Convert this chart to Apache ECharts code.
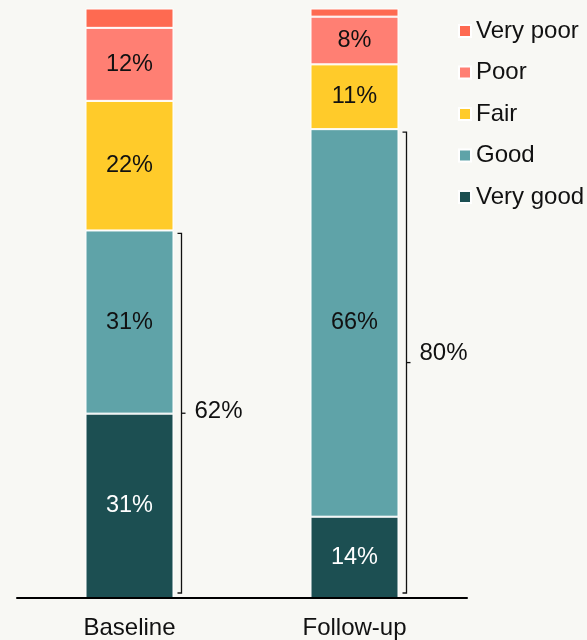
<!DOCTYPE html>
<html>
<head>
<meta charset="utf-8">
<script src="https://cdn.jsdelivr.net/npm/echarts@6/dist/echarts.min.js"></script>
<style>
html,body{margin:0;padding:0;background:#f8f8f4;}
#chart{width:587px;height:640px;}
</style>
</head>
<body>
<div id="chart"></div>
<script>
const categories = ['Baseline', 'Follow-up'];
const veryGood = [31.3, 13.8];
const good = [31.1, 65.8];
const fair = [22.0, 11.0];
const poor = [12.4, 8.1];
const veryPoor = [3.3, 1.6];
const legendOrder = ['Very poor', 'Poor', 'Fair', 'Good', 'Very good'];

const FONT = '"Liberation Sans", Arial, sans-serif';
const BAR_W = 88;

function segment(name, data, color, labelColor, showLabel) {
  return {
    name: name,
    type: 'bar',
    stack: 'total',
    barWidth: BAR_W,
    data: data,
    itemStyle: { color: color, borderColor: '#ffffff', borderWidth: 1 },
    label: {
      show: showLabel,
      position: 'inside',
      color: labelColor,
      fontFamily: FONT,
      fontSize: 23.5,
      formatter: p => Math.round(p.value) + '%'
    },
    emphasis: { disabled: true }
  };
}

const bracketData = categories.map((c, i) => [i, veryGood[i] + good[i]]);
const labelDy = [-2, -9];

const option = {
  backgroundColor: '#f8f8f4',
  animation: false,
  grid: { left: 17, right: 120, top: 9, bottom: 42 },
  legend: {
    data: legendOrder,
    orient: 'vertical',
    left: 458,
    top: 19,
    padding: 0,
    itemWidth: 12,
    itemHeight: 12,
    itemGap: 17.5,
    icon: 'rect',
    textStyle: { fontFamily: FONT, fontSize: 24, color: '#111', lineHeight: 24 },
    selectedMode: false
  },
  xAxis: {
    type: 'category',
    data: categories,
    z: 10,
    axisLine: { lineStyle: { color: '#000', width: 2 } },
    axisTick: { show: false },
    axisLabel: { fontFamily: FONT, fontSize: 24, color: '#111', margin: 18 }
  },
  yAxis: {
    type: 'value',
    min: 0,
    max: 100,
    show: false,
    splitLine: { show: false }
  },
  series: [
    segment('Very good', veryGood, '#1c4f52', '#ffffff', true),
    segment('Good', good, '#5fa3a8', '#111111', true),
    segment('Fair', fair, '#ffcb2a', '#111111', true),
    segment('Poor', poor, '#ff7f73', '#111111', true),
    segment('Very poor', veryPoor, '#fe6a51', '#111111', false),
    {
      type: 'custom',
      name: 'bracket',
      data: bracketData,
      z: 5,
      silent: true,
      renderItem: function (params, api) {
        const idx = api.value(0);
        const total = api.value(1);
        const base = api.coord([idx, 0]);
        const top = api.coord([idx, total]);
        const x = base[0] + BAR_W / 2 + 8;
        const y0 = top[1] + 3;
        const y1 = base[1] - 5;
        const ym = (y0 + y1) / 2;
        return {
          type: 'group',
          children: [
            {
              type: 'polyline',
              shape: { points: [[x - 4, y0], [x, y0], [x, y1], [x - 4, y1]] },
              style: { stroke: '#111', lineWidth: 1.3, fill: null }
            },
            {
              type: 'line',
              shape: { x1: x, y1: ym, x2: x + 4, y2: ym },
              style: { stroke: '#111', lineWidth: 1.3 }
            },
            {
              type: 'text',
              style: {
                text: Math.round(total) + '%',
                x: x + 13,
                y: ym + labelDy[idx],
                verticalAlign: 'middle',
                align: 'left',
                fontFamily: FONT,
                fontSize: 24,
                fill: '#111'
              }
            }
          ]
        };
      }
    }
  ]
};

const chart = echarts.init(document.getElementById('chart'), null, { renderer: 'canvas' });
chart.setOption(option);
</script>
</body>
</html>
